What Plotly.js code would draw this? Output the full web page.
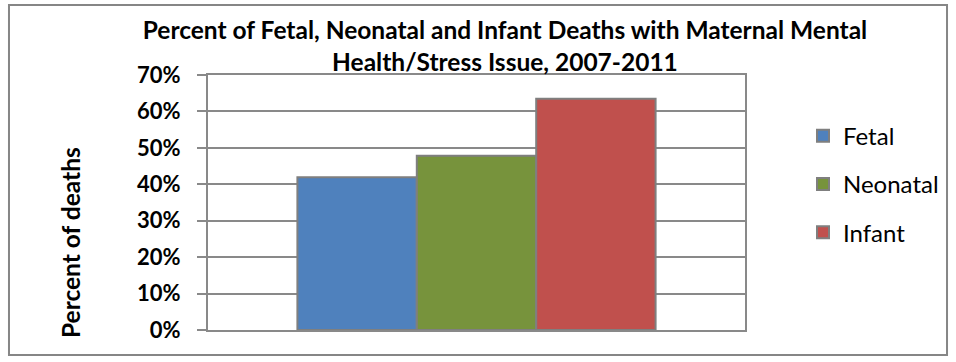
<!DOCTYPE html>
<html>
<head>
<meta charset="utf-8">
<script src="https://cdn.plot.ly/plotly-3.0.1.min.js"></script>
<style>
  html, body { margin: 0; padding: 0; background: #ffffff; }
  #chart { width: 956px; height: 362px; }
</style>
</head>
<body>
<div id="chart"></div>
<script>
// Share of deaths with a maternal mental health / stress issue, 2007-2011
const category = ["2007-2011"];
const seriesNames = ["Fetal", "Neonatal", "Infant"];
const fetal = [0.419];
const neonatal = [0.478];
const infant = [0.635];
const seriesValues = [fetal, neonatal, infant];
const seriesColors = ["#4F81BD", "#77933C", "#C0504D"];
const yTickValues = [0, 0.1, 0.2, 0.3, 0.4, 0.5, 0.6, 0.7];

const FONT = "Lato, 'Open Sans', sans-serif";
const GRID = "#898989";

const traces = seriesNames.map((name, i) => ({
  type: "bar",
  name: name,
  x: category,
  y: seriesValues[i],
  legendgroup: name,
  marker: { color: seriesColors[i], line: { color: "#7F7F7F", width: 2 } },
  hoverinfo: "name+y"
}));

const layout = {
  width: 956,
  height: 362,
  margin: { l: 208, r: 211, t: 75, b: 32 },
  paper_bgcolor: "#ffffff",
  plot_bgcolor: "#ffffff",
  barmode: "group",
  bargap: 0.333,
  bargroupgap: 0,
  title: {
    text: "Percent of Fetal, Neonatal and Infant Deaths with Maternal Mental<br>Health/Stress Issue, 2007-2011",
    font: { family: FONT, size: 24.5, color: "#000000", weight: 700 },
    x: 0.553, xanchor: "center", xref: "paper",
    yref: "container", y: 0.892, yanchor: "bottom"
  },
  xaxis: {
    type: "category",
    showticklabels: false,
    ticks: "",
    showgrid: false,
    zeroline: false,
    showline: true,
    mirror: true,
    linecolor: GRID,
    linewidth: 2
  },
  yaxis: {
    range: [0, 0.7],
    tickvals: yTickValues,
    tickformat: ".0%",
    ticks: "outside",
    ticklen: 9,
    tickwidth: 2,
    tickcolor: GRID,
    ticklabelstandoff: 12,
    tickfont: { family: FONT, size: 22, color: "#000000", weight: 700 },
    showgrid: true,
    gridcolor: GRID,
    gridwidth: 2,
    zeroline: false,
    showline: true,
    mirror: true,
    linecolor: GRID,
    linewidth: 2
  },
  showlegend: true,
  legend: {
    x: 1.108, xanchor: "left",
    y: 0.848, yanchor: "top",
    font: { family: FONT, size: 24, color: "#000000" },
    tracegroupgap: 14,
    bgcolor: "rgba(0,0,0,0)"
  },
  annotations: [{
    text: "Percent of deaths",
    textangle: -90,
    xref: "paper", yref: "paper",
    x: -0.257, y: 0.345,
    xanchor: "center", yanchor: "middle",
    showarrow: false,
    font: { family: FONT, size: 24.5, color: "#000000", weight: 700 }
  }],
  shapes: [{
    type: "rect",
    xref: "paper", yref: "paper",
    x0: -0.3706, x1: 1.3762, y0: -0.098, y1: 1.2745,
    line: { color: "#868686", width: 2 },
    fillcolor: "rgba(0,0,0,0)",
    layer: "below"
  }]
};

Plotly.newPlot("chart", traces, layout, { displayModeBar: false, staticPlot: true });
</script>
</body>
</html>
